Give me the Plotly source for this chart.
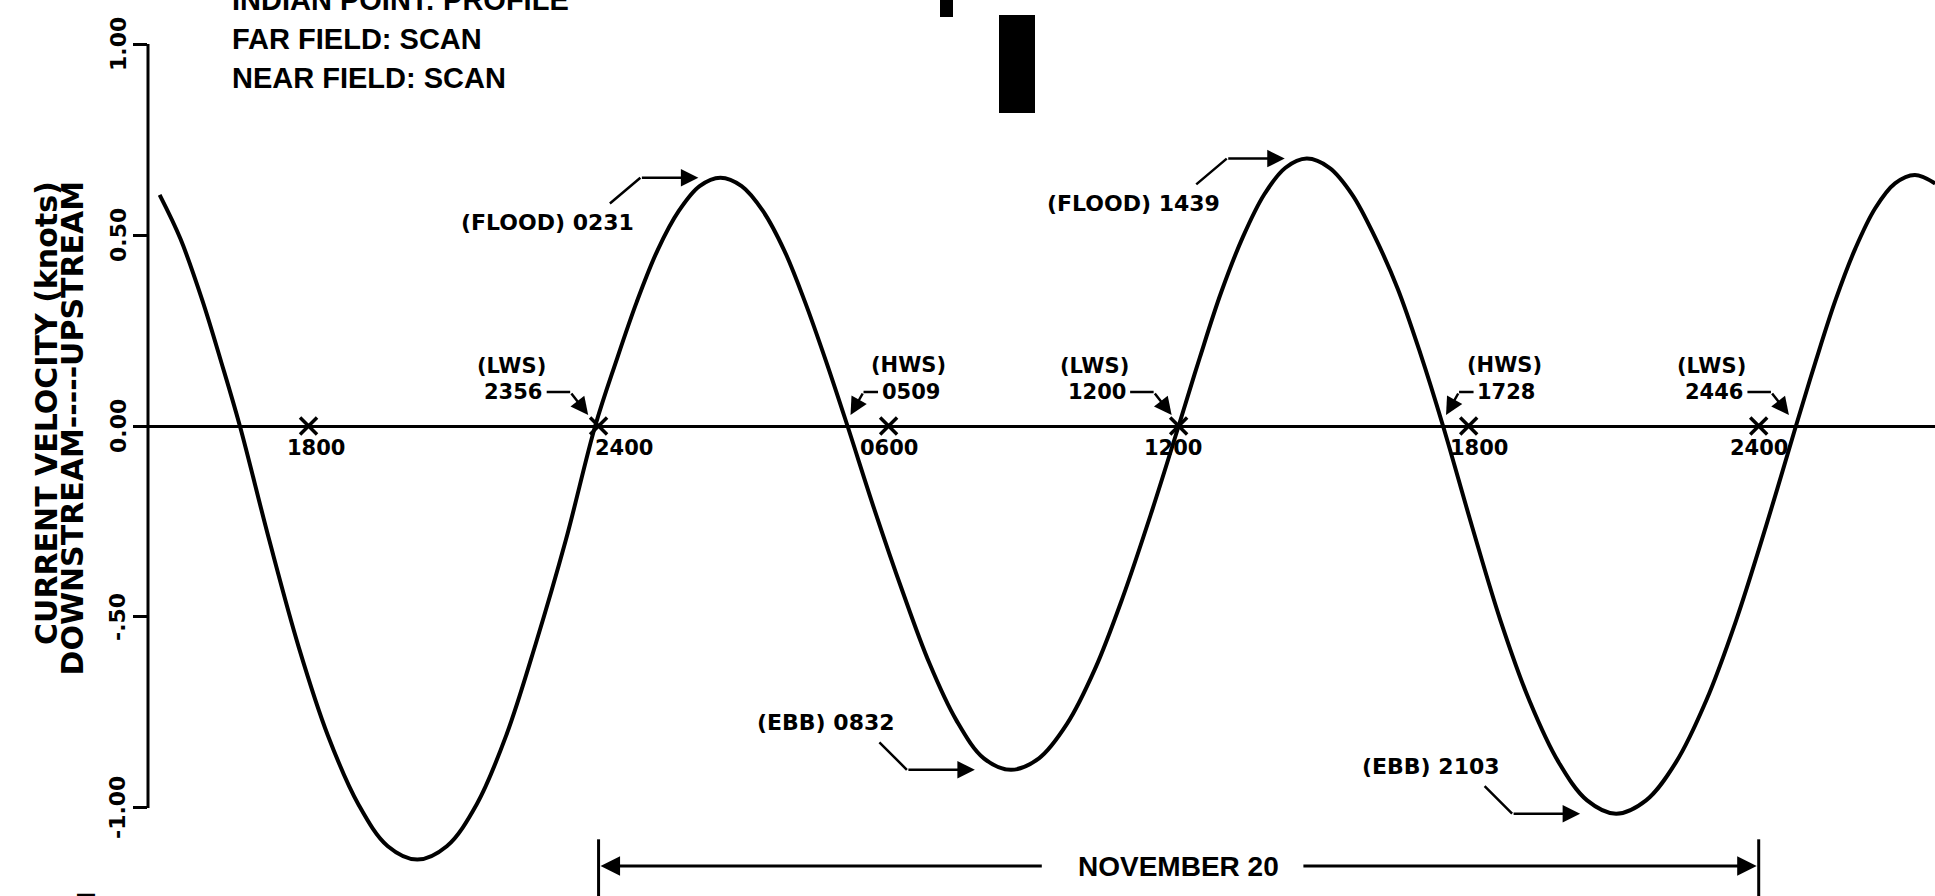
import plotly.graph_objects as go

# ---------------------------------------------------------------
# Tidal current at Indian Point, Nov 19-20 (hours from 0000 Nov 19)
# ---------------------------------------------------------------
curve_hours = [14.92, 15.35, 15.8, 16.2, 16.58,
               17.19, 17.8, 18.4, 19.03, 19.64, 20.25,
               20.86, 21.48, 22.09, 22.7, 23.32, 23.93,
               24.36, 24.79, 25.22, 25.66, 26.09, 26.52,
               26.96, 27.4, 27.84, 28.27, 28.71, 29.15,
               29.71, 30.28, 30.84, 31.4, 31.97, 32.53,
               33.11, 33.69, 34.27, 34.84, 35.42, 36.0,
               36.44, 36.88, 37.33, 37.77, 38.21, 38.65,
               39.12, 39.59, 40.06, 40.53, 41.0, 41.47,
               42.07, 42.66, 43.26, 43.86, 44.45, 45.05,
               45.67, 46.29, 46.91, 47.53, 48.15, 48.77,
               49.18, 49.59, 50.0, 50.41, 50.82, 51.23, 51.65]
curve_knots = [0.605, 0.49, 0.33, 0.165, 0.0,
               -0.30, -0.58, -0.81, -0.99, -1.10, -1.135,
               -1.10, -0.99, -0.81, -0.57, -0.30, 0.0,
               0.168, 0.325, 0.46, 0.563, 0.628, 0.65,
               0.628, 0.563, 0.46, 0.325, 0.168, 0.0,
               -0.22, -0.43, -0.62, -0.77, -0.87, -0.90,
               -0.87, -0.78, -0.636, -0.45, -0.233, 0.0,
               0.18, 0.35, 0.495, 0.606, 0.676, 0.70,
               0.676, 0.606, 0.495, 0.36, 0.19, 0.0,
               -0.263, -0.51, -0.72, -0.88, -0.98, -1.015,
               -0.98, -0.88, -0.72, -0.51, -0.263, 0.0,
               0.17, 0.33, 0.465, 0.57, 0.635, 0.657, 0.635]

# clock-time crosses on the zero line
clock_hours = [18, 24, 30, 36, 42, 48]
clock_labels = ["1800", "2400", "0600", "1200", "1800", "2400"]

# maximum flood / ebb
peak_labels = ["(FLOOD) 0231", "(EBB) 0832", "(FLOOD) 1439", "(EBB) 2103"]
peak_hours = [26.52, 32.53, 38.65, 45.05]
peak_knots = [0.65, -0.90, 0.70, -1.015]

# slack water
slack_kinds = ["(LWS)", "(HWS)", "(LWS)", "(HWS)", "(LWS)"]
slack_times = ["2356", "0509", "1200", "1728", "2446"]
slack_hours = [23.93, 29.15, 36.0, 41.47, 48.77]

# y axis
y_tick_vals = [1.0, 0.5, 0.0, -0.5, -1.0]
y_tick_text = ["1.00", "0.50", "0.00", "-.50", "-1.00"]

header_lines = ["INDIAN POINT: PROFILE", "FAR FIELD: SCAN", "NEAR FIELD: SCAN"]
date_label = "NOVEMBER 20"
date_start, date_end = 24, 48

# ---------------------------------------------------------------
W, H = 1935, 896
LEFT = 148
X_RANGE = [14.679, 51.647]
Y_RANGE = [-1.2304, 1.1152]

LBL = dict(family="DejaVu Sans", size=21, color="black", weight="bold")
BIG = dict(family="Liberation Sans, Arial, sans-serif", size=30, color="black", weight="bold")
INK = "black"

fig = go.Figure()

fig.add_trace(go.Scatter(
    x=curve_hours, y=curve_knots, mode="lines",
    line=dict(color=INK, width=4, shape="spline", smoothing=1.0),
    hoverinfo="skip", showlegend=False))

fig.add_trace(go.Scatter(
    x=clock_hours, y=[0] * len(clock_hours), mode="markers",
    marker=dict(symbol="x-thin", size=17, color=INK, line=dict(color=INK, width=3.5)),
    hoverinfo="skip", showlegend=False))

# clock labels under the crosses
clock_dx = [7, 25, 0, -6, 10, 0]
for h, t, dx in zip(clock_hours, clock_labels, clock_dx):
    fig.add_annotation(x=h, y=0, text=t, showarrow=False, xshift=dx, yshift=-22,
                       font=LBL)


def leader(h, v, pts, width=2.5):
    """Poly-line leader given as pixel offsets (dx, dy-down) from a data point;
    the final segment carries the arrow head."""
    for i in range(len(pts) - 1):
        p0, p1 = pts[i], pts[i + 1]
        last = i == len(pts) - 2
        fig.add_annotation(
            x=h, y=v, xref="x", yref="y", text="", showarrow=True,
            xshift=p1[0], yshift=-p1[1],
            ax=p0[0] - p1[0], ay=p0[1] - p1[1], axref="pixel", ayref="pixel",
            arrowhead=2 if last else 0, arrowsize=1.4, arrowwidth=width,
            arrowcolor=INK, standoff=0, startstandoff=0)


# flood / ebb maxima
for lab, h, v in zip(peak_labels, peak_hours, peak_knots):
    if v > 0:
        fig.add_annotation(x=h, y=v, text=lab, showarrow=False,
                           xshift=-173, yshift=-45, font=dict(LBL, size=22))
        leader(h, v, [(-112, 27), (-80, 0), (-22, 0)])
    else:
        fig.add_annotation(x=h, y=v, text=lab, showarrow=False,
                           xshift=-185, yshift=47, font=dict(LBL, size=22))
        leader(h, v, [(-133, -29), (-104, 0), (-36, 0)])

# slack water
for kind, t, h in zip(slack_kinds, slack_times, slack_hours):
    if kind == "(LWS)":
        fig.add_annotation(x=h, y=0, text=kind, showarrow=False,
                           xshift=-84, yshift=60, font=LBL)
        fig.add_annotation(x=h, y=0, text=t, showarrow=False,
                           xshift=-82, yshift=34, font=LBL)
        leader(h, 0, [(-50, -34), (-25, -34), (-7, -11)])
    else:
        fig.add_annotation(x=h, y=0, text=kind, showarrow=False,
                           xshift=61, yshift=61, font=LBL)
        fig.add_annotation(x=h, y=0, text=t, showarrow=False,
                           xshift=63, yshift=34, font=LBL)
        leader(h, 0, [(32, -34), (16, -34), (3, -11)])

# y axis: vertical line between the end ticks, rotated tick labels and title
fig.add_shape(type="line", xref="paper", yref="y", x0=0, x1=0,
              y0=min(y_tick_vals), y1=max(y_tick_vals),
              line=dict(color=INK, width=3))
for v, t in zip(y_tick_vals, y_tick_text):
    fig.add_annotation(xref="paper", x=0, y=v, text=t, showarrow=False,
                       xanchor="center", textangle=-90, xshift=-30,
                       font=dict(LBL, size=22))

TITLE = dict(family="DejaVu Sans", size=30, color="black", weight="bold")
fig.add_annotation(xref="paper", yref="paper", x=0, y=1, xshift=-102, yshift=-179,
                   xanchor="center", yanchor="top", text="CURRENT VELOCITY (knots)",
                   textangle=-90, showarrow=False, font=TITLE)
fig.add_annotation(xref="paper", yref="paper", x=0, y=1, xshift=-76, yshift=-179,
                   xanchor="center", yanchor="top", text="DOWNSTREAM-----UPSTREAM",
                   textangle=-90, showarrow=False, font=TITLE)

# header block
for i, line in enumerate(header_lines):
    fig.add_annotation(xref="paper", yref="paper", x=0, y=1, xshift=82,
                       yshift=-(0 + 39 * i), xanchor="left", yanchor="middle",
                       text=line, showarrow=False, font=dict(BIG, size=29))

# date span along the bottom
bar_top, arrow_y = -1.082, -1.152
for h in (date_start, date_end):
    fig.add_shape(type="line", xref="x", yref="y", x0=h, x1=h,
                  y0=bar_top, y1=Y_RANGE[0], line=dict(color=INK, width=3))
mid = (date_start + date_end) / 2
fig.add_annotation(x=mid, y=arrow_y, text=date_label, showarrow=False,
                   font=dict(BIG, size=28))
fig.add_annotation(x=date_start, y=arrow_y, ax=mid - 2.8, ay=arrow_y,
                   axref="x", ayref="y", text="", showarrow=True, arrowhead=2,
                   arrowsize=1.3, arrowwidth=3, arrowcolor=INK, standoff=2)
fig.add_annotation(x=date_end, y=arrow_y, ax=mid + 2.55, ay=arrow_y,
                   axref="x", ayref="y", text="", showarrow=True, arrowhead=2,
                   arrowsize=1.3, arrowwidth=3, arrowcolor=INK, standoff=2)


# registration blocks at the top edge
def px_x(p):
    return (p - LEFT) / (W - LEFT)


def px_y(p):
    return 1 - p / H


for x0, x1, y0, y1 in [(940, 953, 0, 17), (999, 1035, 15, 113)]:
    fig.add_shape(type="rect", xref="paper", yref="paper",
                  x0=px_x(x0), x1=px_x(x1), y0=px_y(y1), y1=px_y(y0),
                  fillcolor=INK, line=dict(width=0))

fig.add_annotation(xref="paper", yref="paper", x=0, y=0, xshift=86 - LEFT, yshift=-4,
                   xanchor="center", yanchor="middle", text="F", textangle=90,
                   showarrow=False, font=dict(BIG, size=26))

fig.update_xaxes(range=X_RANGE, visible=False, fixedrange=True)
fig.update_yaxes(range=Y_RANGE, showgrid=False, showline=False,
                 zeroline=True, zerolinecolor=INK, zerolinewidth=3,
                 tickvals=y_tick_vals, ticks="outside", ticklen=14, tickwidth=3,
                 tickcolor=INK, showticklabels=False, fixedrange=True)
fig.update_layout(width=W, height=H, margin=dict(l=LEFT, r=0, t=0, b=0),
                  paper_bgcolor="white", plot_bgcolor="white")

fig.write_html("out.html")
